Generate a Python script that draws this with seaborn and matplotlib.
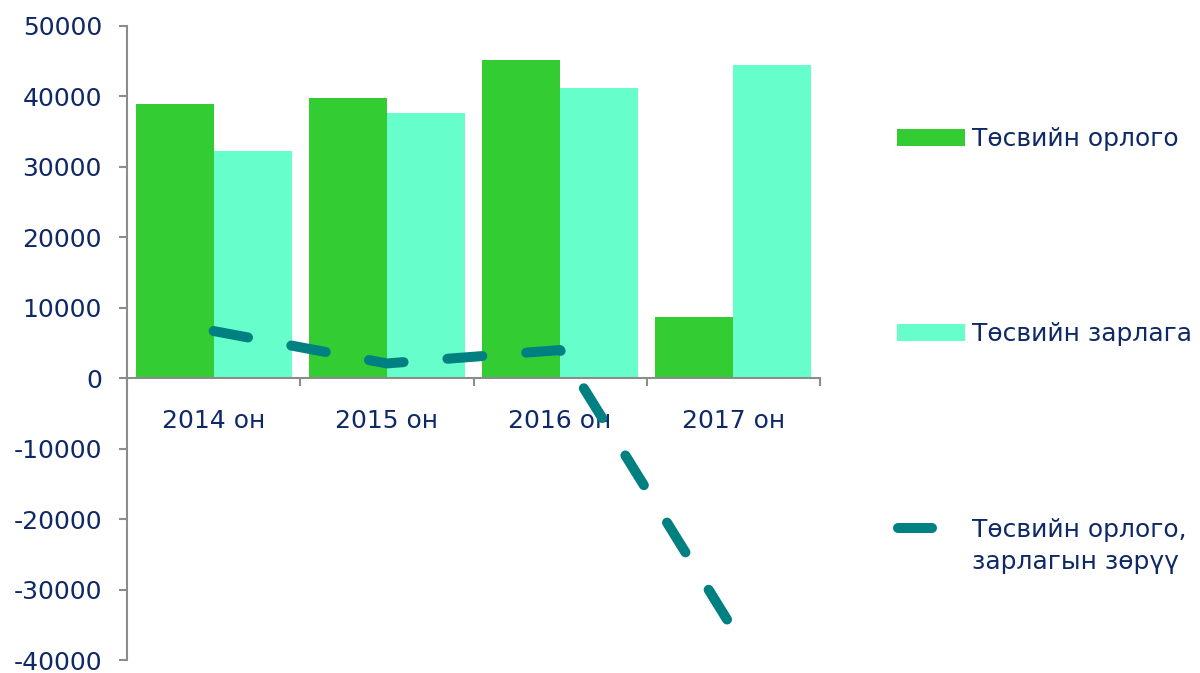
import matplotlib
matplotlib.use("Agg")
import matplotlib.pyplot as plt
from matplotlib.lines import Line2D
from matplotlib.patches import Patch
from matplotlib.legend_handler import HandlerLine2D
import seaborn as sns
import pandas as pd
import numpy as np

years = ["2014 он", "2015 он", "2016 он", "2017 он"]
income = [38900, 39800, 45150, 8750]
expense = [32200, 37700, 41150, 44450]
balance = [6700, 2100, 4000, -35700]
series_names = ["Төсвийн орлого", "Төсвийн зарлага", "Төсвийн орлого,\nзарлагын зөрүү"]
yticks = list(range(-40000, 50001, 10000))

C_INC = "#33CC33"
C_EXP = "#66FFCC"
C_LINE = "#008080"
C_TEXT = "#0F2866"
C_AXIS = "#8C8C8C"

sns.set_theme(style="white")
plt.rcParams["font.family"] = ["DejaVu Sans"]
plt.rcParams["axes.unicode_minus"] = False

df = pd.DataFrame({
    "year": years * 2,
    "value": income + expense,
    "series": [series_names[0]] * 4 + [series_names[1]] * 4,
})

fig = plt.figure(figsize=(12, 6.73), dpi=100)
ax = fig.add_axes([127 / 1200, 1 - 660 / 673, (820 - 127) / 1200, (660 - 26) / 673])

sns.barplot(data=df, x="year", y="value", hue="series",
            palette=[C_INC, C_EXP], width=0.9, gap=0, saturation=1,
            ax=ax, legend=False, edgecolor="none", linewidth=0)

sns.pointplot(x=years, y=balance, color=C_LINE, markers="", ax=ax,
              linewidth=7.2, errorbar=None)
bal_line = ax.lines[-1]
bal_line.set_dashes((3.5, 4.4))
bal_line.set_dash_capstyle("round")
bal_line.set_solid_capstyle("round")
bal_line.set_linewidth(7.2)

ax.set_xlim(-0.5, 3.5)
ax.set_ylim(-40000, 50000)
ax.set_yticks(yticks)
ax.set_yticklabels([str(v) for v in yticks])
ax.set_xlabel("")
ax.set_ylabel("")

for s in ["top", "right"]:
    ax.spines[s].set_visible(False)
ax.spines["bottom"].set_position(("data", 0))
ax.spines["bottom"].set_color(C_AXIS)
ax.spines["bottom"].set_linewidth(1.5)
ax.spines["left"].set_color(C_AXIS)
ax.spines["left"].set_linewidth(1.5)

ax.set_xticks(range(4))
ax.set_xticklabels(years)
ax.set_xticks([-0.5, 0.5, 1.5, 2.5, 3.5], minor=True)
ax.tick_params(axis="x", which="major", length=0, pad=22, labelsize=18, labelcolor=C_TEXT)
ax.tick_params(axis="x", which="minor", length=6, width=1.5, color=C_AXIS, direction="out", bottom=True)
ax.tick_params(axis="y", which="major", length=6, width=1.5, color=C_AXIS, direction="out",
               left=True, pad=12, labelsize=18, labelcolor=C_TEXT)
ax.grid(False)


class ShortLineHandler(HandlerLine2D):
    def get_xdata(self, legend, xdescent, ydescent, width, height, fontsize):
        xd = np.array([-xdescent + 0.7, -xdescent + 25])
        return xd, xd

    def create_artists(self, legend, orig_handle, xdescent, ydescent,
                       width, height, fontsize, trans):
        arts = super().create_artists(legend, orig_handle, xdescent, ydescent,
                                      width, height, fontsize, trans)
        for a in arts:
            a.set_ydata(np.asarray(a.get_ydata()) + 13.3)
        return arts


handles = [
    Patch(facecolor=C_INC, edgecolor="none"),
    Patch(facecolor=C_EXP, edgecolor="none"),
    Line2D([0], [0], color=C_LINE, lw=7.2, solid_capstyle="round"),
]
leg = fig.legend(handles, series_names, loc="upper left",
                 bbox_to_anchor=(897 / 1200, 1 - 127 / 673),
                 frameon=False, fontsize=18, labelcolor=C_TEXT,
                 borderpad=0, borderaxespad=0, handlelength=2.7,
                 handleheight=0.7, handletextpad=0.3, labelspacing=6.85,
                 handler_map={Line2D: ShortLineHandler()})
leg.get_texts()[2].set_linespacing(1.45)

fig.savefig("out.png", dpi=100, facecolor="white")
